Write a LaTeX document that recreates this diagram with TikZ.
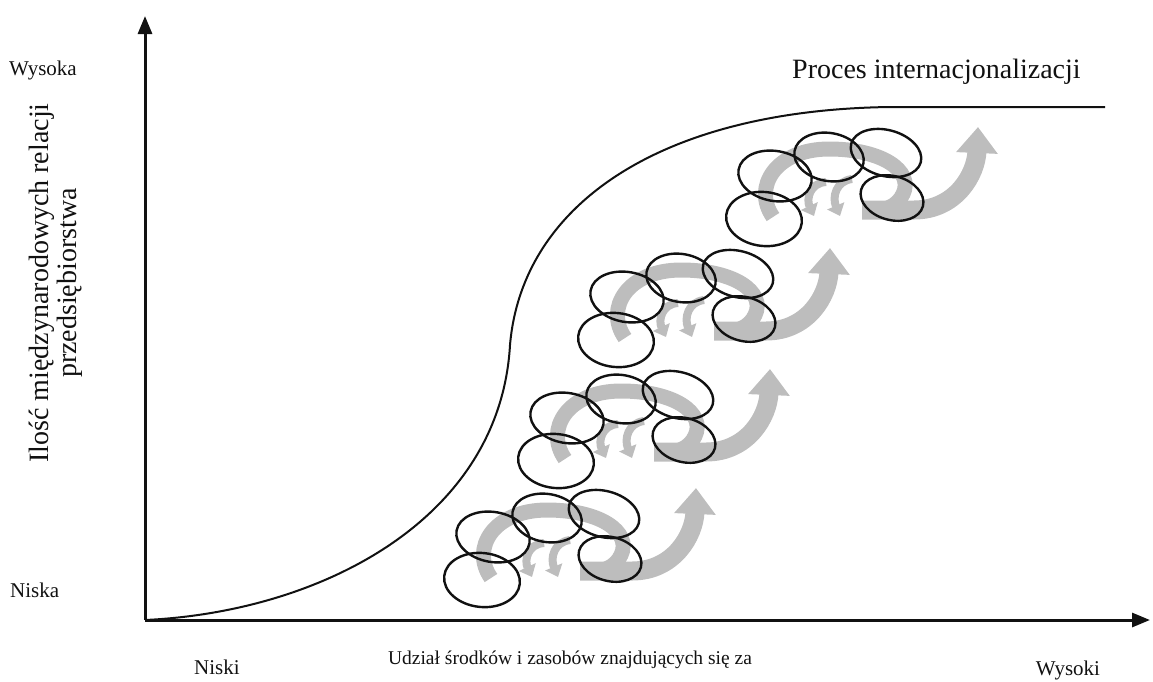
\documentclass[tikz,border=0pt]{standalone}
\usepackage{fontspec}
\setmainfont{Liberation Serif}
\usepackage{tikz}
\usetikzlibrary{arrows.meta, positioning}
\definecolor{axisink}{HTML}{111111}
\definecolor{bandgray}{HTML}{BDBDBD}
\tikzset{
  axis/.style={draw=axisink, line width=3pt, -{Triangle[length=18pt, width=14pt]}},
  curve/.style={draw=axisink, line width=2pt},
  ring/.style={draw=axisink, line width=2.4pt},
  band/.style={draw=bandgray, line width=15pt},
  bigband/.style={draw=bandgray, line width=19pt, -{Triangle[length=26pt, width=40pt]}},
  smallband/.style={draw=bandgray, line width=8pt, -{Triangle[length=11pt, width=18pt]}},
  lbl/.style={font=\fontsize{21}{24}\selectfont, text=axisink, inner sep=0pt},
  ttl/.style={font=\fontsize{28}{32}\selectfont, text=axisink, inner sep=0pt},
  ylbl/.style={font=\fontsize{28}{28}\selectfont, text=axisink, align=center, inner sep=0pt},
  cluster/.pic={
    % grey loop and rising arrow
    \draw[band] (9,-2) .. controls (-12,-32) and (12,-70) .. (65,-70)
      .. controls (118,-70) and (150,-48) .. (139,-25)
      .. controls (133,-12) and (120,-8) .. (104,-8);
    \draw[bigband] (98,-9) -- (150,-9) .. controls (192,-9) and (212,-45) .. (214,-92);
    \draw[smallband] (62,-37) .. controls (46,-36) and (42,-20) .. (50,-3);
    \draw[smallband] (88,-40) .. controls (72,-38) and (68,-22) .. (76,-3);
    % the five rings
    \draw[ring] (0,0) ellipse [x radius=38, y radius=27, rotate=-6];
    \draw[ring] (11,-43) ellipse [x radius=37, y radius=25, rotate=-10];
    \draw[ring] (65,-62) ellipse [x radius=35, y radius=24, rotate=-10];
    \draw[ring] (122,-66) ellipse [x radius=36, y radius=23, rotate=-15];
    \draw[ring] (128,-21) ellipse [x radius=32, y radius=22, rotate=-15];
  }
}
\begin{document}
\begin{tikzpicture}[x=1pt, y=-1pt]
\useasboundingbox (0,0) rectangle (1153,681);
\coordinate (origin) at (145,620);
\coordinate (ytip) at (145,16);
\coordinate (xtip) at (1150,620);
\coordinate (flat) at (1105,107);
\draw[axis] (origin) -- (ytip);
\draw[axis] (origin) -- (xtip);
\draw[curve] (origin) .. controls (320,612) and (500,520) .. (510,345)
  .. controls (522,205) and (660,110) .. (890,107) -- (flat);
\pic (c1) at (482,580) {cluster};
\pic (c2) at (556,461) {cluster};
\pic (c3) at (616,340) {cluster};
\pic (c4) at (764,219) {cluster};
\node[lbl, anchor=west] (high) at (9,70) {Wysoka};
\node[lbl, anchor=west] (low) at (10,590) {Niska};
\node[lbl] (xlow) at (217,667) {Niski};
\node[lbl] (xhigh) at (1068,670) {Wysoki};
\node[lbl, font=\fontsize{19.5}{24}\selectfont] (xtitle) at (570,660) {Udział środków i zasobów znajdujących się za};
\node[ttl, anchor=west] (proc) at (792,72) {Proces internacjonalizacji};
\node[ylbl, rotate=90] (ytitle) at (56,283) {Ilość międzynarodowych relacji\\przedsiębiorstwa};
\end{tikzpicture}
\end{document}
